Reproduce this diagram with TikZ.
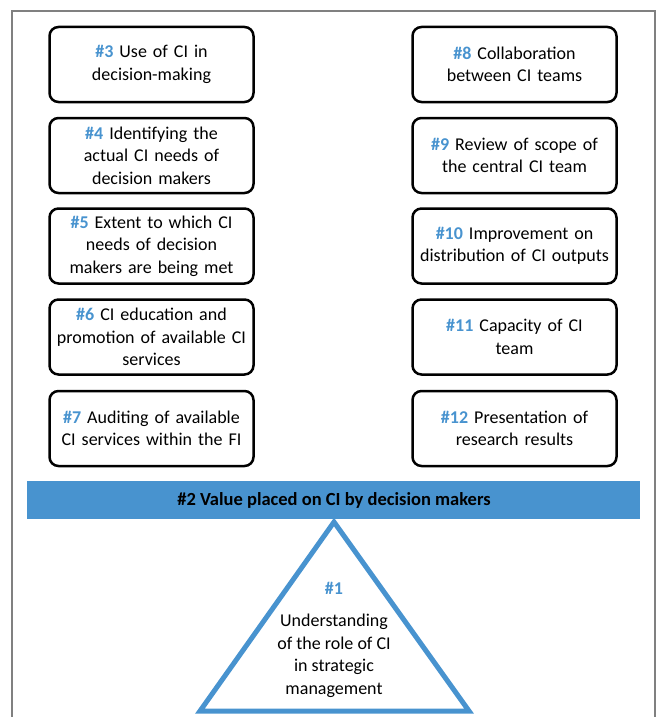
\documentclass[tikz,border=0pt]{standalone}
\usepackage{fontspec}
\setmainfont{Carlito}
\definecolor{ciblue}{RGB}{72,147,207}
\definecolor{framegray}{RGB}{128,128,128}
\tikzset{
  cibox/.style={draw=black, line width=2.5pt, rounded corners=9pt,
    minimum width=204pt, minimum height=75pt, text width=200pt, align=center,
    inner sep=0pt, font=\fontsize{18pt}{22.5pt}\selectfont},
  lbl/.style={align=center, inner sep=0pt, font=\fontsize{18pt}{22.5pt}\selectfont}
}
\newcommand{\hn}[1]{\textbf{\textcolor{ciblue}{#1}}}
\begin{document}
\begin{tikzpicture}[x=1pt,y=-1pt]
\useasboundingbox (0,0) rectangle (657,717);
% frame
\draw[framegray, line width=1.8pt] (12,717) -- (12,11) -- (655,11) -- (655,717);
% left column
\node[cibox] (b3) at (151.5,64.5) {\hn{\#3} Use of CI in\\decision-making};
\node[cibox] (b4) at (151.5,155.5) {\hn{\#4} Identifying the\\actual CI needs of\\decision makers};
\node[cibox] (b5) at (151.5,246) {\hn{\#5} Extent to which CI\\needs of decision\\makers are being met};
\node[cibox] (b6) at (151.5,337) {\hn{\#6} CI education and\\promotion of available CI\\services};
\node[cibox] (b7) at (151.5,428.5) {\hn{\#7} Auditing of available\\CI services within the FI};
% right column
\node[cibox] (b8) at (514.5,64.5) {\hn{\#8} Collaboration\\between CI teams};
\node[cibox] (b9) at (514.5,155.5) {\hn{\#9} Review of scope of\\the central CI team};
\node[cibox] (b10) at (514.5,246) {\hn{\#10} Improvement on\\distribution of CI outputs};
\node[cibox] (b11) at (514.5,337) {\hn{\#11} Capacity of CI\\team};
\node[cibox] (b12) at (514.5,428.5) {\hn{\#12} Presentation of\\research results};
% banner
\fill[ciblue] (27,481) rectangle (640,519);
\node[lbl, font=\fontsize{18.5pt}{22pt}\selectfont\bfseries] (b2) at (334,500) {\#2 Value placed on CI by decision makers};
% triangle
\coordinate (tA) at (334,522);
\coordinate (tL) at (200,711);
\coordinate (tR) at (469,711);
\draw[ciblue, line width=5pt, line join=miter] (tA) -- (tR) -- (tL) -- cycle;
\node[lbl] (t1) at (334,588) {\hn{\#1}};
\node[lbl] (t1txt) at (334,656) {Understanding\\of the role of CI\\in strategic\\management};
\end{tikzpicture}
\end{document}
